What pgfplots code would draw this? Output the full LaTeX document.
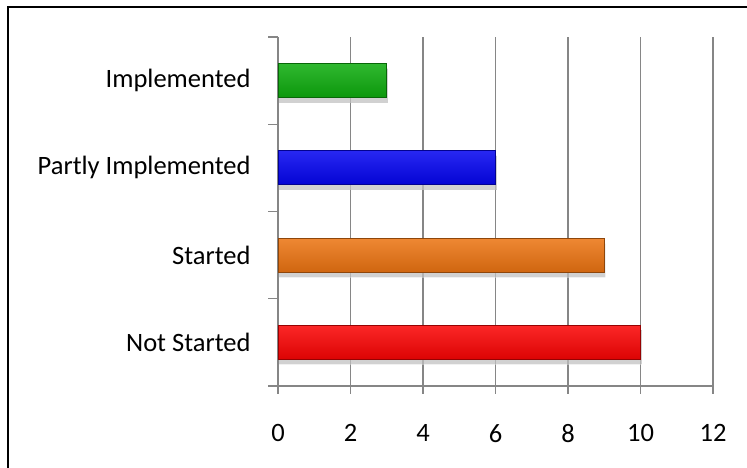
\documentclass[border=0pt]{standalone}
\usepackage{fontspec}
\setmainfont{Carlito}
\usepackage{pgfplots}
\pgfplotsset{compat=1.18}
\usetikzlibrary{shadows}

\definecolor{barred}{RGB}{250,4,4}
\definecolor{barorange}{RGB}{236,116,18}
\definecolor{barblue}{RGB}{4,4,240}
\definecolor{bargreen}{RGB}{14,172,14}
\definecolor{gridgray}{RGB}{134,134,134}

\pgfplotsset{
  bevel/.style={
    top color=#1!86!white, middle color=#1, bottom color=#1!88!black,
    draw=#1!60!black, line width=0.8pt,
    drop shadow={shadow xshift=1pt, shadow yshift=-5pt, draw=none,
      top color=black!11, bottom color=black!11, middle color=black!11},
  },
}

\begin{document}
\begin{tikzpicture}[x=1pt,y=1pt]
\useasboundingbox (0,0) rectangle (747,468);
% outer frame, only left and top edges are visible
\draw[line width=2.6pt] (8,0) -- (8,461) -- (747,461);
\begin{axis}[
    at={(278pt,82pt)}, anchor=south west,
    scale only axis,
    width=435pt, height=349pt,
    xmin=0, xmax=12,
    ymin=-0.5, ymax=3.5,
    xtick={0,2,...,12},
    ytick={0,1,2,3},
    yticklabels={Not Started,Started,Partly Implemented,Implemented},
    minor ytick={-0.5,0.5,1.5,2.5,3.5},
    axis lines*=left,
    axis line style={gridgray, line width=1.3pt},
    tick align=outside,
    every tick/.style={gridgray, line width=1.3pt},
    major y tick style={draw=none},
    minor tick length=10pt,
    major tick length=8pt,
    xmajorgrids,
    major grid style={gridgray, line width=1.3pt},
    tick label style={font=\fontsize{26.5}{30}\selectfont},
    /pgf/number format/assume math mode=true,
    xticklabel style={yshift=-27pt},
    yticklabel style={xshift=-16pt},
    xbar, bar width=34pt, bar shift=0pt,
    clip=false,
]
\addplot[bevel=barred] coordinates {(10,0)};
\addplot[bevel=barorange] coordinates {(9,1)};
\addplot[bevel=barblue] coordinates {(6,2)};
\addplot[bevel=bargreen] coordinates {(3,3)};
\end{axis}
\end{tikzpicture}
\end{document}
